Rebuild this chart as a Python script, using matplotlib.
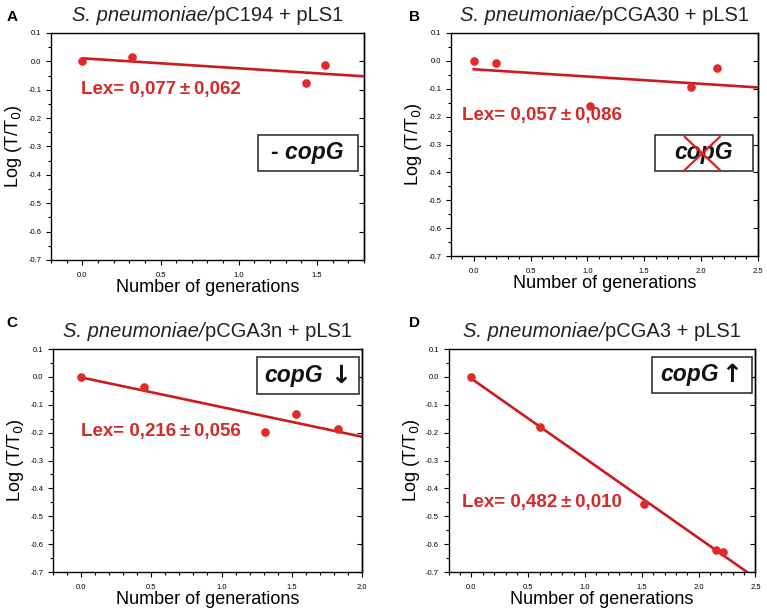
import numpy as np
import matplotlib
matplotlib.use("Agg")
import matplotlib.pyplot as plt
from matplotlib.patches import Rectangle
from matplotlib.ticker import MultipleLocator, FormatStrFormatter, NullLocator

plt.rcParams['font.family'] = ['Liberation Sans', 'DejaVu Sans']

# data
gen_a = [0.0, 0.32, 1.43, 1.55]
log_a = [0.0, 0.017, -0.078, -0.012]
gen_b = [0.0, 0.20, 1.02, 1.91, 2.14]
log_b = [0.0, -0.006, -0.162, -0.095, -0.025]
gen_c = [0.0, 0.45, 1.31, 1.53, 1.83]
log_c = [0.0, -0.038, -0.197, -0.133, -0.186]
gen_d = [0.0, 0.60, 1.52, 2.15, 2.21]
log_d = [0.0, -0.180, -0.457, -0.620, -0.628]

letters = ['A', 'B', 'C', 'D']
strains = ['pC194', 'pCGA30', 'pCGA3n', 'pCGA3']
lex = ['Lex= 0,077\u2009\u00b1\u20090,062', 'Lex= 0,057\u2009\u00b1\u20090,086',
       'Lex= 0,216\u2009\u00b1\u20090,056', 'Lex= 0,482\u2009\u00b1\u20090,010']
tags = ['- copG', 'copG', 'copG', 'copG']
arrows = [None, None, '\u2193', '\u2191']
xmax = [1.8, 2.5, 2.0, 2.5]

red_pt = '#e02a2a'
red_ln = '#cc1a1f'

fig = plt.figure(figsize=(7.67, 6.11), dpi=100)
boxes = [[0.0665, 0.5745, 0.408, 0.3715],
         [0.588, 0.581, 0.400, 0.365],
         [0.069, 0.0638, 0.403, 0.365],
         [0.585, 0.0638, 0.400, 0.365]]
data = [(gen_a, log_a), (gen_b, log_b), (gen_c, log_c), (gen_d, log_d)]
lex_pos = [(0.096, 0.749), (0.036, 0.632), (0.09, 0.628), (0.042, 0.31)]
# tag box (x0, y0, x1, y1) in axes fraction
tag_box = [(0.661, 0.392, 0.981, 0.551), (0.664, 0.381, 0.984, 0.543),
           (0.660, 0.798, 0.990, 0.964), (0.664, 0.803, 0.990, 0.964)]
tag_x = [0.818, 0.824, 0.78, 0.785]
arrow_x = [None, None, 0.932, 0.922]
letter_pos = [(0.008, 0.972), (0.533, 0.972), (0.008, 0.472), (0.533, 0.472)]

titles = []
for i in range(4):
    ax = fig.add_axes(boxes[i])
    x, y = data[i]
    slope, icpt = np.polyfit(x, y, 1)
    xl = np.array([0.0, xmax[i]])
    ax.plot(xl, icpt + slope * xl, color=red_ln, lw=1.9, zorder=2)
    ax.plot(x, y, 'o', color=red_pt, ms=5.2, zorder=3)

    ax.set_xlim(-0.2, xmax[i])
    ax.set_ylim(-0.7, 0.1)
    ax.xaxis.set_major_locator(MultipleLocator(0.5))
    ax.xaxis.set_minor_locator(MultipleLocator(0.1))
    ax.yaxis.set_major_locator(MultipleLocator(0.1))
    ax.yaxis.set_minor_locator(MultipleLocator(0.05))
    ax.xaxis.set_major_formatter(FormatStrFormatter('%.1f'))
    ax.yaxis.set_major_formatter(FormatStrFormatter('%.1f'))
    ax.tick_params(which='both', direction='out', labelsize=5.5, width=0.8)
    ax.tick_params(which='major', length=3.5)
    ax.tick_params(which='minor', length=2)
    ax.tick_params(axis='x', pad=5)
    for s in ax.spines.values():
        s.set_linewidth(1.0)

    # inward ticks on the right spine
    sec = ax.secondary_yaxis('right')
    sec.yaxis.set_major_locator(MultipleLocator(0.1))
    sec.yaxis.set_minor_locator(NullLocator())
    sec.tick_params(direction='in', length=3.5, width=0.8, labelright=False)
    sec.spines['right'].set_linewidth(1.0)

    ax.set_xlabel('Number of generations', fontsize=13, labelpad=0)
    ax.set_ylabel('Log (T/T$_0$)', fontsize=13, labelpad=3)

    # title: italic species part + plain plasmid part
    ty = 1 + 8 / (boxes[i][3] * 611)
    t1 = ax.text(0.5, ty, 'S. pneumoniae/', transform=ax.transAxes,
                 fontsize=14.5, fontstyle='italic', color='#222222',
                 ha='left', va='bottom')
    t2 = ax.annotate(strains[i] + ' + pLS1', xy=(1, 0), xycoords=t1,
                     fontsize=14.5, color='#222222', ha='left', va='bottom')
    titles.append((ax, t1, t2))

    ax.text(lex_pos[i][0], lex_pos[i][1], lex[i], transform=ax.transAxes,
            color='#d42a2a', fontsize=13.5, fontweight='bold', va='center')

    x0, y0, x1, y1 = tag_box[i]
    ax.add_patch(Rectangle((x0, y0), x1 - x0, y1 - y0, transform=ax.transAxes,
                           fc='white', ec='#222222', lw=1.1, zorder=4))
    ax.text(tag_x[i], (y0 + y1) / 2, tags[i], transform=ax.transAxes,
            fontsize=16.5, fontweight='bold', fontstyle='italic', color='#111111',
            ha='center', va='center', zorder=5)
    if arrows[i]:
        ax.text(arrow_x[i], (y0 + y1) / 2, arrows[i], transform=ax.transAxes,
                fontsize=18, fontweight='bold', family='DejaVu Sans',
                color='#111111', ha='center', va='center', zorder=5)

    fig.text(letter_pos[i][0], letter_pos[i][1], letters[i], fontsize=11,
             fontweight='bold', va='center')

    if i == 1:
        ax.plot([0.762, 0.876], [0.534, 0.386], color='#e02020', lw=1.6,
                transform=ax.transAxes, zorder=6)
        ax.plot([0.762, 0.876], [0.386, 0.534], color='#e02020', lw=1.6,
                transform=ax.transAxes, zorder=6)

# centre each two-part title over its axes
fig.canvas.draw()
r = fig.canvas.get_renderer()
for ax, t1, t2 in titles:
    w = t1.get_window_extent(r).width + t2.get_window_extent(r).width
    axw = ax.get_window_extent(r).width
    t1.set_x(0.5 - w / 2 / axw)

fig.savefig('out.png', dpi=100)
